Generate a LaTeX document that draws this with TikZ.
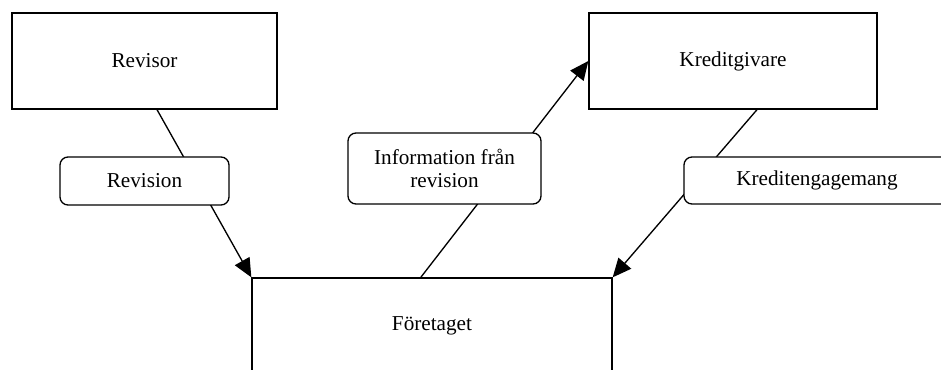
\documentclass[tikz,border=0pt]{standalone}
\usepackage{fontspec}
\setmainfont{Liberation Serif}
\usetikzlibrary{arrows.meta,calc}
\tikzset{
  party/.style={draw, line width=1pt, inner sep=0pt, minimum height=72pt},
  flowlabel/.style={draw, fill=white, line width=1pt, rounded corners=6pt, inner sep=0pt, align=center},
  flow/.style={line width=1pt, -{Triangle[length=14pt,width=12.5pt]}}
}
\begin{document}
\begin{tikzpicture}[x=0.75pt, y=-0.75pt, font=\fontsize{15.9}{17}\selectfont]
   \useasboundingbox (0,0) rectangle (941,370);
   \clip (0,0) rectangle (941,370);
   \node[party, minimum width=198.75pt] (revisor) at (144.5,61) {Revisor};
   \node[party, minimum width=216pt] (kredit) at (733,61) {Kreditgivare};
   \node[party, minimum width=270pt] (foretag) at (432,326) {Företaget};
   \draw[flow] ($(revisor.south west)!0.547!(revisor.south east)$) -- (foretag.north west);
   \draw[flow] ($(foretag.north west)!0.469!(foretag.north east)$) -- (kredit.west);
   \draw[flow] ($(kredit.south west)!0.583!(kredit.south east)$) -- (foretag.north east);
   \node[flowlabel, minimum width=126.75pt, minimum height=36pt] (revision) at (144.5,181) {Revision};
   \node[flowlabel, minimum width=144.75pt, minimum height=53.25pt] (info) at (444.5,168.5) {Information från\\revision};
   \node[flowlabel, minimum width=199.5pt, minimum height=35.25pt] (engagemang) at (817,180.5) {Kreditengagemang};
\end{tikzpicture}
\end{document}
